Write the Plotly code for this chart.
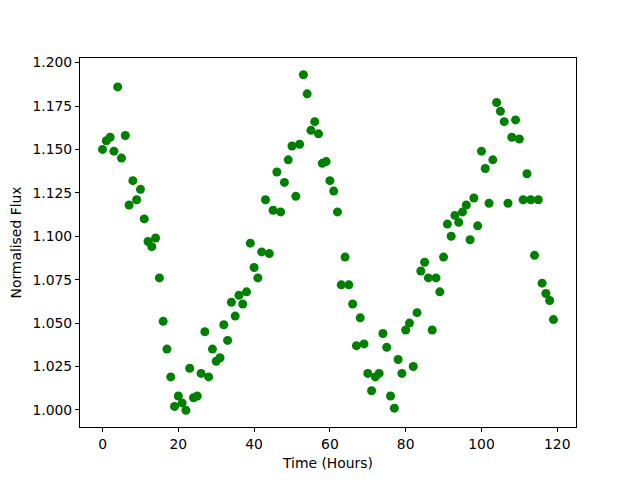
import plotly.graph_objects as go

time_hours = list(range(120))
flux = [
    1.150, 1.155, 1.157, 1.149, 1.186, 1.145, 1.158, 1.118, 1.132, 1.121,
    1.127, 1.110, 1.097, 1.094, 1.099, 1.076, 1.051, 1.035, 1.019, 1.002,
    1.008, 1.004, 0.9998, 1.024, 1.007, 1.008, 1.021, 1.045, 1.019, 1.035,
    1.028, 1.030, 1.049, 1.040, 1.062, 1.054, 1.066, 1.061, 1.068, 1.096,
    1.082, 1.076, 1.091, 1.121, 1.090, 1.115, 1.137, 1.114, 1.131, 1.144,
    1.152, 1.123, 1.153, 1.193, 1.182, 1.161, 1.166, 1.159, 1.142, 1.143,
    1.132, 1.126, 1.114, 1.072, 1.088, 1.072, 1.061, 1.037, 1.053, 1.038,
    1.021, 1.011, 1.019, 1.021, 1.044, 1.036, 1.008, 1.001, 1.029, 1.021,
    1.046, 1.050, 1.025, 1.056, 1.080, 1.085, 1.076, 1.046, 1.076, 1.068,
    1.088, 1.107, 1.100, 1.112, 1.108, 1.114, 1.118, 1.098, 1.122, 1.106,
    1.149, 1.139, 1.119, 1.144, 1.177, 1.172, 1.166, 1.119, 1.157, 1.167,
    1.156, 1.121, 1.136, 1.121, 1.089, 1.121, 1.073, 1.067, 1.063, 1.052,
]
x_ticks = [0, 20, 40, 60, 80, 100, 120]
y_ticks = [1.000, 1.025, 1.050, 1.075, 1.100, 1.125, 1.150, 1.175, 1.200]

fig = go.Figure(go.Scatter(
    x=time_hours, y=flux, mode="markers",
    marker=dict(color="#008000", size=9, line=dict(width=0)),
))

xmin, xmax = min(time_hours), max(time_hours)
ymin, ymax = min(flux), max(flux)
xpad = (xmax - xmin) * 0.05
ypad = (ymax - ymin) * 0.05

FS = 13.9
axis_common = dict(
    showgrid=False, zeroline=False, showline=True, linecolor="black",
    linewidth=1, mirror=True, ticks="outside", ticklen=4, tickcolor="black",
    tickwidth=1, tickfont=dict(color="black", size=FS), automargin=False,
)

fig.update_layout(
    width=640, height=480,
    margin=dict(l=72, r=72, t=50, b=61),
    paper_bgcolor="white", plot_bgcolor="white",
    font=dict(family="DejaVu Sans", size=FS, color="black"),
    showlegend=False,
    xaxis=dict(range=[xmin - xpad, xmax + xpad], tickvals=x_ticks,
               title=dict(text="Time (Hours)", standoff=7, font=dict(size=FS)),
               **axis_common),
    yaxis=dict(range=[ymin - ypad, ymax + ypad], tickvals=y_ticks,
               tickformat=".3f",
               title=dict(text="Normalised Flux", standoff=8, font=dict(size=FS)),
               **axis_common),
)

fig.write_html("out.html")
